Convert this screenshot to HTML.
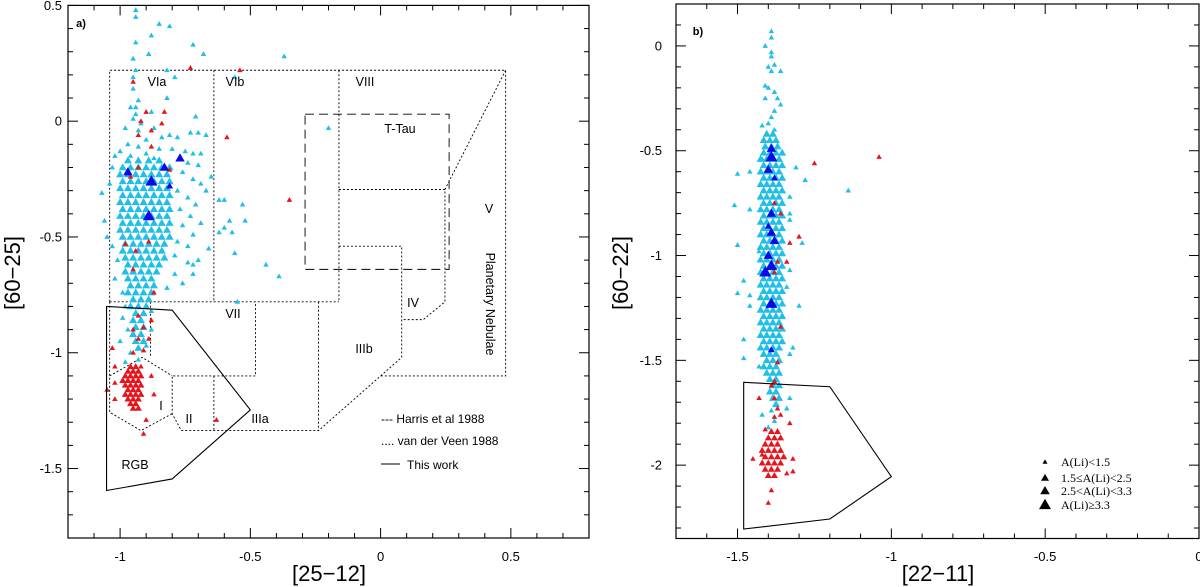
<!DOCTYPE html>
<html><head><meta charset="utf-8"><style>
html,body{margin:0;padding:0;background:#fff;}
svg{display:block;font-family:"Liberation Sans",sans-serif;}
</style></head><body>
<svg id="fig" width="1200" height="587" viewBox="0 0 1200 587" xmlns="http://www.w3.org/2000/svg">
<g id="pa"></g>
<g id="pb"></g>
</svg>
<script>
// ---------- data: panel a ----------
const aCyan = [[-0.94,0.48],[-0.94,0.45],[-0.85,0.42],[-0.81,0.41],[-0.88,0.37],[-0.94,0.34],[-0.72,0.33],[-0.68,0.29],[-0.37,0.28],[-0.89,0.29],[-0.95,0.27],[-0.94,0.22],[-0.82,0.22],[-0.79,0.19],[-0.56,0.19],[-0.95,0.19],[-0.95,0.14],[-0.82,0.1],[-0.93,0.09],[-0.96,0.06],[-0.94,0.06],[-0.88,0.04],[-0.94,0.03],[-0.71,0.02],[-0.95,0.01],[-0.92,-0.01],[-0.98,-0.03],[-0.87,-0.03],[-0.93,-0.04],[-0.2,-0.03],[-0.73,-0.05],[-0.7,-0.05],[-0.67,-0.06],[-0.81,-0.06],[-0.84,-0.07],[-0.78,-0.07],[-0.9,-0.08],[-0.97,-0.1],[-0.93,-0.11],[-0.85,-0.12],[-0.8,-0.12],[-0.75,-0.13],[-0.72,-0.14],[-0.69,-0.14],[-1.0,-0.13],[-1.02,-0.15],[-0.96,-0.15],[-0.9,-0.14],[-0.87,-0.16],[-0.77,-0.16],[-0.74,-0.18],[-0.7,-0.19],[-1.03,-0.2],[-0.65,-0.24],[-0.69,-0.27],[-0.67,-0.3],[-1.07,-0.31],[-1.04,-0.27],[-0.62,-0.34],[-0.6,-0.34],[-0.53,-0.36],[-0.58,-0.43],[-0.52,-0.43],[-0.6,-0.46],[-0.57,-0.48],[-0.62,-0.48],[-0.56,-0.57],[-0.66,-0.55],[-0.7,-0.6],[-0.72,-0.62],[-0.74,-0.61],[-0.44,-0.62],[-0.39,-0.67],[-0.72,-0.66],[-0.79,-0.66],[-0.55,-0.78],[-1.06,-0.43],[-1.05,-0.5],[-1.03,-0.54],[-1.01,-0.6],[-1.02,-0.68],[-0.99,-0.74],[-0.98,-0.8],[-0.88,-0.82],[-0.99,-0.85],[-0.97,-0.9],[-1.0,-0.95],[-0.96,-1.0],[-0.93,-1.03],[-0.98,-1.04],[-0.88,-0.9],[-0.92,-0.92],[-0.9,-0.97],
[-0.76,-0.22],[-0.72,-0.25],[-0.78,-0.3],[-0.74,-0.33],[-0.71,-0.36],[-0.77,-0.38],[-0.73,-0.41],[-0.69,-0.44],[-0.76,-0.45],[-0.72,-0.49],[-0.78,-0.52],[-0.74,-0.54],[-0.79,-0.58],[-0.76,-0.7],[-0.82,-0.72]];
// dense core rows: [y, x1, x2, ...]
const aCyanRows = [
[-0.17,-0.97,-0.93,-0.89,-0.85],
[-0.2,-0.99,-0.96,-0.93,-0.9,-0.87,-0.84,-0.81],
[-0.23,-1.0,-0.97,-0.94,-0.91,-0.88,-0.85,-0.82],
[-0.26,-0.99,-0.96,-0.93,-0.9,-0.87,-0.84,-0.81],
[-0.29,-1.0,-0.97,-0.94,-0.91,-0.88,-0.85,-0.82],
[-0.32,-0.99,-0.96,-0.93,-0.9,-0.87,-0.84,-0.81],
[-0.35,-1.0,-0.97,-0.94,-0.91,-0.88,-0.85,-0.82],
[-0.38,-0.99,-0.96,-0.93,-0.9,-0.87,-0.84,-0.81],
[-0.41,-1.0,-0.97,-0.94,-0.91,-0.88,-0.85,-0.82],
[-0.44,-0.99,-0.96,-0.93,-0.9,-0.87,-0.84,-0.81],
[-0.47,-1.0,-0.97,-0.94,-0.91,-0.88,-0.85,-0.82],
[-0.5,-0.99,-0.96,-0.93,-0.9,-0.87,-0.84,-0.81],
[-0.53,-0.98,-0.95,-0.92,-0.89,-0.86,-0.83],
[-0.56,-0.99,-0.96,-0.93,-0.9,-0.87,-0.84],
[-0.59,-0.98,-0.95,-0.92,-0.89,-0.86,-0.83],
[-0.62,-0.97,-0.94,-0.91,-0.88,-0.85],
[-0.65,-0.98,-0.95,-0.92,-0.89,-0.86],
[-0.68,-0.97,-0.94,-0.91,-0.88],
[-0.71,-0.96,-0.93,-0.9,-0.87],
[-0.74,-0.97,-0.94,-0.91,-0.88],
[-0.77,-0.95,-0.92,-0.89],
[-0.8,-0.96,-0.93,-0.9],
[-0.83,-0.94,-0.91],
[-0.86,-0.95,-0.92],
[-0.89,-0.94,-0.91],
[-0.92,-0.95,-0.92],
[-0.95,-0.94,-0.91],
[-0.98,-0.93]];
const aRed = [[-0.73,0.23],[-0.54,0.22],[-0.95,0.17],[-0.9,0.04],[-0.83,0.04],[-0.92,0.0],[-0.84,-0.01],[-0.88,-0.04],[-0.93,-0.06],[-0.59,-0.07],[-0.88,-0.11],[-0.93,-0.2],[-0.81,-0.21],[-0.96,-0.24],[-0.35,-0.34],[-0.98,-0.53],[-0.89,-0.52],[-0.94,-0.56],[-0.95,-0.64],[-0.87,-0.74],[-0.93,-0.84],[-0.88,-0.86],[-0.95,-0.9],[-0.91,-0.89],[-0.93,-0.94],[-0.89,-0.94],[-1.03,-0.98],[-0.95,-1.0],[-0.91,-0.99],[-1.02,-1.06],[-0.92,-1.06],[-0.88,-1.1],[-0.63,-1.29],[-0.9,-1.29],[-0.91,-1.35],[-1.02,-1.13],[-1.05,-1.16],[-0.87,-1.18],[-1.02,-1.2]];
const aRedRows = [
[-1.06,-0.96,-0.94],
[-1.08,-0.97,-0.95,-0.93],
[-1.1,-0.98,-0.96,-0.94,-0.92],
[-1.12,-0.99,-0.97,-0.95,-0.93],
[-1.14,-0.98,-0.96,-0.94,-0.92],
[-1.16,-0.97,-0.95,-0.93],
[-1.18,-0.98,-0.96,-0.94,-0.92],
[-1.2,-0.97,-0.95,-0.93],
[-1.22,-0.96,-0.94],
[-1.24,-0.95,-0.93]];
const aBlue = [[-0.88,-0.26,3],[-0.89,-0.41,3],[-0.97,-0.22,2],[-0.83,-0.2,2],[-0.77,-0.16,2],[-0.81,-0.28,1]];
const aXTicks = ["-1","-0.5","0","0.5"];
const aXTickVals = [-1,-0.5,0,0.5];
const aYTicks = ["0.5","0","-0.5","-1","-1.5"];
const aYTickVals = [0.5,0,-0.5,-1,-1.5];

// ---------- data: panel b ----------
const bCyan = [[-1.39,0.07],[-1.39,0.04],[-1.41,0.0],[-1.39,-0.03],[-1.39,-0.05],[-1.38,-0.09],[-1.4,-0.1],[-1.36,-0.12],[-1.39,-0.12],[-1.41,-0.19],[-1.4,-0.2],[-1.38,-0.22],[-1.37,-0.25],[-1.41,-0.25],[-1.36,-0.28],[-1.38,-0.31],[-1.39,-0.34],[-1.4,-0.37],[-1.38,-0.4],[-1.42,-0.38],[-1.5,-0.61],[-1.46,-0.6],[-1.42,-0.54],[-1.31,-0.58],[-1.28,-0.64],[-1.14,-0.69],[-1.51,-0.76],[-1.46,-0.78],[-1.33,-0.72],[-1.33,-0.8],[-1.33,-0.83],[-1.29,-0.94],[-1.5,-0.95],[-1.43,-0.98],[-1.48,-1.12],[-1.33,-1.07],[-1.34,-1.15],[-1.5,-1.18],[-1.46,-1.19],[-1.46,-1.24],[-1.3,-1.24],[-1.48,-1.4],[-1.48,-1.49],[-1.32,-1.44],[-1.33,-1.47],[-1.43,-1.53],[-1.33,-1.68],[-1.34,-1.73],[-1.42,-1.76],[-1.39,-1.74],[-1.38,-1.79],[-1.4,-1.82]];
const bCyanRows = [
[-0.42,-1.405,-1.385],[-0.45,-1.415,-1.395,-1.375],[-0.48,-1.41,-1.39,-1.37],
[-0.51,-1.415,-1.395,-1.375,-1.355],[-0.54,-1.425,-1.405,-1.385,-1.365],[-0.57,-1.415,-1.395,-1.375,-1.355],
[-0.6,-1.425,-1.405,-1.385,-1.365],[-0.63,-1.415,-1.395,-1.375,-1.355],[-0.66,-1.425,-1.405,-1.385,-1.365],
[-0.69,-1.415,-1.395,-1.375,-1.355],[-0.72,-1.425,-1.405,-1.385,-1.365],[-0.75,-1.415,-1.395,-1.375,-1.355],
[-0.78,-1.425,-1.405,-1.385,-1.365],[-0.81,-1.415,-1.395,-1.375,-1.355],[-0.84,-1.425,-1.405,-1.385,-1.365],
[-0.87,-1.415,-1.395,-1.375,-1.355],[-0.9,-1.425,-1.405,-1.385,-1.365],[-0.93,-1.415,-1.395,-1.375,-1.355],
[-0.96,-1.425,-1.405,-1.385,-1.365],[-0.99,-1.415,-1.395,-1.375,-1.355],[-1.02,-1.425,-1.405,-1.385,-1.365],
[-1.05,-1.415,-1.395,-1.375,-1.355],[-1.08,-1.425,-1.405,-1.385,-1.365],[-1.11,-1.415,-1.395,-1.375,-1.355],
[-1.14,-1.425,-1.405,-1.385,-1.365],[-1.17,-1.415,-1.395,-1.375,-1.355],[-1.2,-1.425,-1.405,-1.385,-1.365],
[-1.23,-1.415,-1.395,-1.375,-1.355],[-1.26,-1.425,-1.405,-1.385,-1.365],[-1.29,-1.415,-1.395,-1.375,-1.355],
[-1.32,-1.425,-1.405,-1.385,-1.365],[-1.35,-1.415,-1.395,-1.375,-1.355],[-1.38,-1.425,-1.405,-1.385,-1.365],
[-1.41,-1.415,-1.395,-1.375,-1.355],[-1.44,-1.425,-1.405,-1.385,-1.365],[-1.47,-1.415,-1.395,-1.375],
[-1.5,-1.405,-1.385,-1.365],[-1.53,-1.415,-1.395,-1.375],[-1.56,-1.405,-1.385,-1.365],
[-1.59,-1.395,-1.375],[-1.62,-1.385,-1.365],[-1.65,-1.395,-1.375],[-1.68,-1.385,-1.365],[-1.71,-1.375]];
const bRed = [[-1.25,-0.56],[-1.04,-0.53],[-1.3,-0.91],[-1.33,-0.94],[-1.36,-0.8],[-1.38,-0.75],[-1.34,-1.03],[-1.37,-1.03],[-1.38,-1.08],[-1.36,-1.34],[-1.37,-1.51],[-1.38,-1.6],[-1.39,-1.62],[-1.43,-1.68],[-1.38,-1.68],[-1.37,-1.73],[-1.36,-1.76],[-1.38,-1.77],[-1.41,-1.83],[-1.33,-1.8],[-1.45,-1.97],[-1.42,-1.95],[-1.39,-2.12],[-1.4,-2.18],[-1.34,-2.04],[-1.32,-1.97],[-1.32,-2.03]];
const bRedRows = [
[-1.84,-1.39,-1.37],[-1.87,-1.4,-1.38,-1.36],[-1.9,-1.41,-1.39,-1.37],
[-1.93,-1.42,-1.4,-1.38,-1.36],[-1.96,-1.41,-1.39,-1.37,-1.35],[-1.99,-1.42,-1.4,-1.38,-1.36],
[-2.02,-1.41,-1.39,-1.37],[-2.05,-1.4,-1.38]];
const bBlue = [[-1.39,-0.53,3],[-1.39,-1.05,3],[-1.39,-1.23,3],[-1.41,-1.08,3],[-1.39,-0.49,2],[-1.4,-0.59,2],[-1.39,-0.89,2],[-1.38,-0.93,2],[-1.4,-1.0,2],[-1.39,-0.8,2],[-1.38,-0.63,1],[-1.4,-0.86,1],[-1.39,-1.45,1]];
const bXTicks = ["-1.5","-1","-0.5","0"];
const bXTickVals = [-1.5,-1,-0.5,0];
const bYTicks = ["0","-0.5","-1","-1.5","-2"];
const bYTickVals = [0,-0.5,-1,-1.5,-2];

// ---------- axes ----------
const A = {x0:68,x1:589,y0:5.4,y1:538,xmin:-1.2,xmax:0.8,ymin:-1.8,ymax:0.5};
const B = {x0:676,x1:1199,y0:4,y1:538.5,xmin:-1.7,xmax:0,ymin:-2.35,ymax:0.2};
function sx(P,v){return P.x0+(v-P.xmin)/(P.xmax-P.xmin)*(P.x1-P.x0);}
function sy(P,v){return P.y0+(P.ymax-v)/(P.ymax-P.ymin)*(P.y1-P.y0);}
const NS="http://www.w3.org/2000/svg";
function mk(tag,attrs,parent){const e=document.createElementNS(NS,tag);for(const k in attrs)e.setAttribute(k,attrs[k]);parent.appendChild(e);return e;}
const SIZES=[5.5,7,9.5,12,8];
function tri(P,g,x,y,sz,col,name){
  const cx=sx(P,x),cy=sy(P,y),w=SIZES[sz],h=w*0.87;
  const p=mk('polygon',{points:`${cx},${cy-h*0.6} ${cx-w/2},${cy+h*0.4} ${cx+w/2},${cy+h*0.4}`,fill:col},g);
  
  
}
function drawPoints(P,g,pts,rows,red,redRows,blue){
  const CY='#20bfe8',RD='#e8141c',BL='#0a0ae6';
  pts.forEach(d=>tri(P,g,d[0],d[1],0,CY,'star-point-low-li'));
  rows.forEach(r=>{for(let i=1;i<r.length;i++)tri(P,g,r[i],r[0],4,CY,'star-point-low-li');});
  red.forEach(d=>tri(P,g,d[0],d[1],0,RD,'star-point-rgb'));
  redRows.forEach(r=>{for(let i=1;i<r.length;i++)tri(P,g,r[i],r[0],1,RD,'star-point-rgb');});
  blue.forEach(d=>tri(P,g,d[0],d[1],d[2],BL,'star-point-li-rich'));
}
function frame(P,g,xv,xl,yv,yl,ylabX){
  const r=mk('rect',{x:P.x0,y:P.y0,width:P.x1-P.x0,height:P.y1-P.y0,fill:'none',stroke:'#000','stroke-width':1.2},g);
  
  
  const nx=Math.floor((P.xmax-P.xmin)*10+1e-6);
  for(let i=0;i<=nx;i++){const v=P.xmin+i/10;const X=sx(P,v);const maj=Math.abs(v*2-Math.round(v*2))<1e-6;const L=maj?10:5;
    mk('line',{x1:X,y1:P.y1,x2:X,y2:P.y1-L,stroke:'#000','stroke-width':1},g);
    mk('line',{x1:X,y1:P.y0,x2:X,y2:P.y0+L,stroke:'#000','stroke-width':1},g);}
  const ny=Math.floor((P.ymax-P.ymin)*10+1e-6);
  for(let i=0;i<=ny;i++){const v=P.ymax-i/10;const Y=sy(P,v);const maj=Math.abs(v*2-Math.round(v*2))<1e-6;const L=maj?10:5;
    mk('line',{x1:P.x0,y1:Y,x2:P.x0+L,y2:Y,stroke:'#000','stroke-width':1},g);
    mk('line',{x1:P.x1,y1:Y,x2:P.x1-L,y2:Y,stroke:'#000','stroke-width':1},g);}
  xv.forEach((v,i)=>{const t=mk('text',{x:sx(P,v),y:561,'font-size':13,'text-anchor':'middle'},g);t.textContent=xl[i];
    
    });
  yv.forEach((v,i)=>{const t=mk('text',{x:ylabX,y:sy(P,v)+4.5,'font-size':13,'text-anchor':'end'},g);t.textContent=yl[i];
    
    });
}
function poly(P,g,pts,dash,name,close){
  const s=pts.map(p=>sx(P,p[0])+','+sy(P,p[1])).join(' ');
  const e=mk(close?'polygon':'polyline',{points:s,fill:'none',stroke:'#000','stroke-width':dash==='solid'?1.1:0.9},g);
  if(dash==='dot')e.setAttribute('stroke-dasharray','2,2');
  if(dash==='dash')e.setAttribute('stroke-dasharray','9,5');
  
  
}
function label(g,x,y,txt,name,extra){
  const t=mk('text',Object.assign({x:x,y:y,'font-size':12.5,'text-anchor':'middle'},extra||{}),g);t.textContent=txt;
  
  
  return t;
}

// ---------- panel a ----------
const ga=document.getElementById('pa');
const regions=[
 [[-1.04,-0.78],[-1.04,0.22],[0.48,0.22],[0.48,-1.1],[0.0,-1.1]],
 [[-0.64,0.22],[-0.64,-0.78]],
 [[-1.04,-0.78],[-0.16,-0.78]],
 [[-0.16,0.22],[-0.16,-0.78]],
 [[-0.16,-0.295],[0.247,-0.295],[0.247,-0.78],[0.164,-0.857],[0.081,-0.857]],
 [[-0.16,-0.54],[0.081,-0.54],[0.081,-1.02],[-0.238,-1.336],[-0.765,-1.336],[-0.80,-1.263],[-0.80,-1.1],[-0.48,-1.1],[-0.48,-0.78]],
 [[-0.238,-0.78],[-0.238,-1.336]],
 [[-0.64,-1.1],[-0.64,-1.336]],
 [[-1.04,-0.78],[-1.04,-1.257],[-0.92,-1.336],[-0.80,-1.263]],
 [[-1.04,-1.1],[-0.915,-1.02],[-0.80,-1.1]],
 [[-0.883,-0.78],[-0.883,-1.02]]
];
regions.forEach(r=>poly(A,ga,r,'dot','region-boundary',false));
poly(A,ga,[[0.48,0.22],[0.247,-0.295]],'dot','region-boundary',false);
poly(A,ga,[[-0.29,0.03],[0.263,0.03],[0.263,-0.64],[-0.29,-0.64]],'dash','t-tau-box',true);
drawPoints(A,ga,aCyan,aCyanRows,aRed,aRedRows,aBlue);
poly(A,ga,[[-1.052,-0.80],[-0.80,-0.816],[-0.50,-1.247],[-0.80,-1.545],[-1.052,-1.595]],'solid','rgb-box',true);
frame(A,ga,aXTickVals,aXTicks,aYTickVals,aYTicks,62);
label(ga,157,86,'VIa','region-label-via');
label(ga,235,86,'VIb','region-label-vib');
label(ga,365,86,'VIII','region-label-viii');
label(ga,400,133,'T-Tau','region-label-t-tau');
label(ga,489,213,'V','region-label-v');
label(ga,486,304,'Planetary Nebulae','region-label-planetary-nebulae',{transform:'rotate(90 486 304)'});
label(ga,413,307,'IV','region-label-iv');
label(ga,233,318,'VII','region-label-vii');
label(ga,364,353,'IIIb','region-label-iiib');
label(ga,161,410,'I','region-label-i');
label(ga,189,423,'II','region-label-ii');
label(ga,260,423,'IIIa','region-label-iiia');
label(ga,135,469,'RGB','region-label-rgb');
label(ga,81,27,'a)','panel-label-a',{'font-size':11,'font-weight':'bold'});
label(ga,381,423,'--- Harris et al 1988','legend-harris',{'text-anchor':'start','font-size':12});
label(ga,381,445,'.... van der Veen 1988','legend-van-der-veen',{'text-anchor':'start','font-size':12});
mk('line',{x1:381,y1:464,x2:400,y2:464,stroke:'#000','stroke-width':1},ga);
label(ga,407,469,'This work','legend-this-work',{'text-anchor':'start','font-size':12});
label(ga,329,581,'[25−12]','x-axis-title',{'font-size':22});
label(ga,20,273,'[60−25]','y-axis-title',{'font-size':22,transform:'rotate(-90 20 273)'});

// ---------- panel b ----------
const gb=document.getElementById('pb');
drawPoints(B,gb,bCyan,bCyanRows,bRed,bRedRows,bBlue);
poly(B,gb,[[-1.48,-1.605],[-1.2,-1.626],[-1.0,-2.055],[-1.2,-2.257],[-1.48,-2.305]],'solid','selection-box',true);
frame(B,gb,bXTickVals,bXTicks,bYTickVals,bYTicks,662);
label(gb,698,35,'b)','panel-label-b',{'font-size':11,'font-weight':'bold'});
const legT=['A(Li)<1.5','1.5≤A(Li)<2.5','2.5<A(Li)<3.3','A(Li)≥3.3'];
const legY=[465,481,494,508];
const legS=[5,8,9.5,12];
legT.forEach((t,i)=>{const w=legS[i],h=w*0.87,cx=1045,cy=legY[i]-3;
  const p=mk('polygon',{points:`${cx},${cy-h*0.6} ${cx-w/2},${cy+h*0.4} ${cx+w/2},${cy+h*0.4}`,fill:'#000'},gb);
  
  
  label(gb,1061,legY[i]+1,t,'legend-entry',{'text-anchor':'start','font-size':12,'font-family':'Liberation Serif, serif'});});
label(gb,938,581,'[22−11]','x-axis-title',{'font-size':22});
label(gb,628,273,'[60−22]','y-axis-title',{'font-size':22,transform:'rotate(-90 628 273)'});
</script>
</body></html>
